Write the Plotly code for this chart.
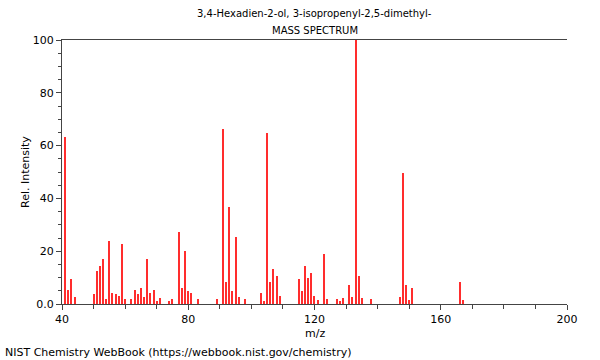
import plotly.graph_objects as go

title_line1 = "3,4-Hexadien-2-ol, 3-isopropenyl-2,5-dimethyl-"
title_line2 = "MASS SPECTRUM"
footer = "NIST Chemistry WebBook (https://webbook.nist.gov/chemistry)"
x_title = "m/z"
y_title = "Rel. Intensity"

mz = [41, 42, 43, 44, 50, 51, 52, 53, 54, 55, 56, 57, 58, 59, 60, 62, 63, 64, 65, 66,
      67, 68, 69, 70, 71, 74, 75, 77, 78, 79, 80, 81, 83, 89, 91, 92, 93, 94, 95, 96,
      98, 103, 104, 105, 106, 107, 108, 109, 115, 116, 117, 118, 119, 120, 121, 123, 124,
      127, 128, 129, 131, 132, 133, 134, 135, 138, 147, 148, 149, 150, 151, 166, 167]
intensity = [63.1, 5.3, 9.5, 2.5, 3.7, 12.5, 14.3, 17.0, 1.9, 23.7, 4.3, 3.7, 3.0, 22.6,
             1.9, 1.9, 5.3, 3.7, 6.0, 2.5, 17.0, 4.3, 5.3, 1.3, 2.4, 1.3, 2.0, 27.3, 6.0,
             20.0, 4.8, 4.3, 2.0, 2.0, 66.2, 8.3, 36.6, 4.8, 25.5, 2.5, 2.0, 4.3, 1.3, 64.9,
             8.2, 13.1, 10.6, 3.0, 9.5, 4.9, 14.3, 10.0, 11.9, 3.0, 1.4, 18.9, 1.9, 1.9,
             1.3, 2.4, 7.2, 2.7, 100.0, 10.7, 2.3, 2.0, 2.5, 49.5, 7.2, 1.4, 6.0, 8.3, 1.4]

x_ticks = [40, 80, 120, 160, 200]
y_ticks = [0, 20, 40, 60, 80, 100]
y_tick_labels = ["0.0", "20", "40", "60", "80", "100"]

fig = go.Figure()
fig.add_trace(go.Bar(x=mz, y=intensity, width=0.33,
                     marker=dict(color="#ff2a2a", opacity=0.99, line=dict(width=0)),
                     hoverinfo="skip", showlegend=False))

font = "DejaVu Sans, sans-serif"
fig.update_layout(
    width=600, height=360,
    margin=dict(l=62, r=33, t=40, b=56),
    paper_bgcolor="white", plot_bgcolor="white",
    font=dict(family=font, size=11, color="black"),
    showlegend=False, hovermode=False, bargap=0, dragmode=False,
    xaxis=dict(range=[40, 200], tickvals=x_ticks, ticks="outside", ticklen=5,
               tickcolor="#444", showline=True, linecolor="#444", linewidth=1,
               mirror=True, showgrid=False, zeroline=False, automargin=False,
               minor=dict(dtick=10, ticks="outside", ticklen=4, tickcolor="#444"),
               tickfont=dict(size=11), fixedrange=True),
    yaxis=dict(range=[0, 100], tickvals=y_ticks, ticktext=y_tick_labels,
               ticks="outside", ticklen=5, tickcolor="#444",
               showline=True, linecolor="#444", linewidth=1, mirror=False,
               showgrid=False, zeroline=False, automargin=False,
               minor=dict(dtick=5, ticks="outside", ticklen=3, tickcolor="#444"),
               tickfont=dict(size=11), fixedrange=True),
    annotations=[
        dict(text=title_line1, xref="paper", yref="paper", x=0.5, y=1,
             yshift=27, xanchor="center", yanchor="middle", showarrow=False,
             font=dict(size=10)),
        dict(text=title_line2, xref="paper", yref="paper", x=0.5, y=1,
             yshift=10, xanchor="center", yanchor="middle", showarrow=False,
             font=dict(size=10)),
        dict(text=x_title, xref="paper", yref="paper", x=0.5, y=0,
             yshift=-29, xanchor="center", yanchor="middle", showarrow=False,
             font=dict(size=11)),
        dict(text=y_title, xref="paper", yref="paper", x=0, y=0.5,
             xshift=-37, xanchor="center", yanchor="middle", showarrow=False,
             textangle=-90, font=dict(size=11)),
        dict(text=footer, xref="paper", yref="paper", x=0, y=0,
             xshift=-59, yshift=-48, xanchor="left", yanchor="middle",
             showarrow=False, font=dict(size=11)),
    ],
)

fig.write_html("out.html", config={"displayModeBar": False},
               post_script="document.body.style.margin='0';document.body.style.overflow='hidden';")
